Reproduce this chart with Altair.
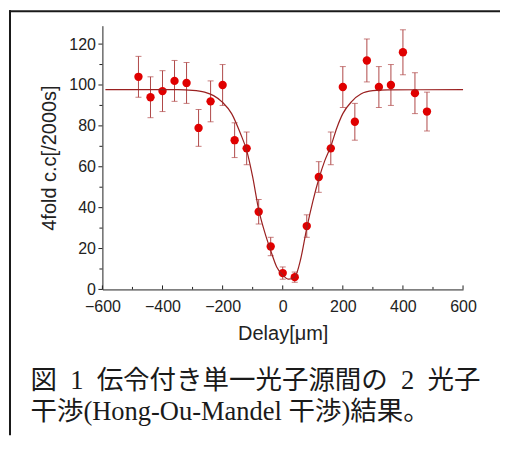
import altair as alt
import pandas as pd

delay = [-480, -440, -400, -360, -320, -280, -240, -200, -160, -120, -80, -40,
         0, 40, 80, 120, 160, 200, 240, 280, 320, 360, 400, 440, 480]
counts = [104, 94, 97, 102, 101, 79, 92, 100, 73, 69, 38, 21,
          8, 6, 31, 55, 69, 99, 82, 112, 99, 100, 116, 96, 87]
errors = [10, 10, 10, 10, 10, 9, 10, 10, 8.5, 8, 6, 4.5,
          3, 2.5, 5.5, 7.5, 8, 10, 9, 10.5, 10, 10, 11, 10, 9.5]

# fitted curve
fit_x = [-590, -350, -300, -260, -230, -200, -170, -140, -120, -100, -80, -60,
         -40, -20, 0, 20, 40, 60, 80, 100, 120, 140, 160, 180, 200, 230, 260,
         300, 350, 600]
fit_y = [97.7, 97.7, 97.4, 96.5, 94.8, 91.5, 86, 76, 68, 55, 39, 28,
         19, 11, 7, 5, 6, 15, 30, 43, 54, 63, 70, 79, 86, 92, 95.6,
         97.2, 97.6, 97.7]

x_major = [-600, -400, -200, 0, 200, 400, 600]
x_minor = [-500, -300, -100, 100, 300, 500]
y_major = [0, 20, 40, 60, 80, 100, 120]
y_minor = [10, 30, 50, 70, 90, 110]

caption_1 = "図\u20021\u2002伝令付き単一光子源間の\u20022\u2002光子"
caption_2 = "干渉(Hong-Ou-Mandel 干渉)結果。"

W, H = 361, 264
PT = "#e00000"
ERR = "#b04848"
LN = "#9a2020"
AX = "#222222"
FR = "#1a1a1a"
CAP_FONT = "'Liberation Serif', 'Noto Sans CJK JP'"

df = pd.DataFrame({"delay": delay, "count": counts,
                   "lo": [c - e for c, e in zip(counts, errors)],
                   "hi": [c + e for c, e in zip(counts, errors)]})
fit_df = pd.DataFrame({"x": fit_x, "y": fit_y})

xscale = alt.Scale(domain=[-600, 600], nice=False, zero=False)
yscale = alt.Scale(domain=[0, 129], nice=False)

xaxis = alt.Axis(values=x_major, ticks=False, tickSize=0, labelPadding=9,
                 titlePadding=9, grid=False, labelFlush=False)
yaxis = alt.Axis(values=y_major, ticks=False, tickSize=0, labelPadding=7,
                 titlePadding=9, grid=False, labelFlush=False)

base = alt.Chart(df)

bars = base.mark_rule(color=ERR, strokeWidth=1).encode(
    x=alt.X("delay:Q", scale=xscale, axis=xaxis, title="Delay[μm]"),
    y=alt.Y("lo:Q", scale=yscale, axis=yaxis, title="4fold c.c[/2000s]"),
    y2="hi:Q",
)
cap_lo = base.mark_tick(color=ERR, thickness=1, size=6, orient="horizontal").encode(
    x="delay:Q", y="lo:Q")
cap_hi = base.mark_tick(color=ERR, thickness=1, size=6, orient="horizontal").encode(
    x="delay:Q", y="hi:Q")
pts = base.mark_circle(size=70, color=PT, opacity=1).encode(
    x="delay:Q", y="count:Q")

curve = alt.Chart(fit_df).mark_line(color=LN, strokeWidth=1.2,
                                    interpolate="monotone").encode(
    x="x:Q", y="y:Q")

xt_major = alt.Chart(pd.DataFrame({"t": x_major})).mark_rule(color=AX).encode(
    x="t:Q", y=alt.value(H), y2=alt.value(H - 4))
xt_minor = alt.Chart(pd.DataFrame({"t": x_minor})).mark_rule(color=AX).encode(
    x="t:Q", y=alt.value(H), y2=alt.value(H - 2.5))
yt_major = alt.Chart(pd.DataFrame({"t": y_major})).mark_rule(color=AX).encode(
    y="t:Q", x=alt.value(0), x2=alt.value(-4))
yt_minor = alt.Chart(pd.DataFrame({"t": y_minor})).mark_rule(color=AX).encode(
    y="t:Q", x=alt.value(0), x2=alt.value(-3))

one = pd.DataFrame({"k": [0]})
frame_v = alt.Chart(one).mark_rect(color=FR, strokeWidth=0).encode(
    x=alt.value(-93.5), x2=alt.value(-91.5), y=alt.value(-15.5), y2=alt.value(410))
frame_h = alt.Chart(one).mark_rect(color=FR, strokeWidth=0).encode(
    x=alt.value(-93.5), x2=alt.value(398), y=alt.value(-15.5), y2=alt.value(-13.5))

cap_df = pd.DataFrame({"c1": [caption_1], "c2": [caption_2]})
cap_text_1 = alt.Chart(cap_df).mark_text(
    align="left", baseline="alphabetic",
    font=CAP_FONT, fontSize=26.5, color="#1a1a1a"
).encode(text="c1:N", x=alt.value(-72), y=alt.value(364))
cap_text_2 = alt.Chart(cap_df).mark_text(
    align="left", baseline="alphabetic",
    font=CAP_FONT, fontSize=26.5, color="#1a1a1a"
).encode(text="c2:N", x=alt.value(-72), y=alt.value(395))

chart = alt.layer(
    bars, cap_lo, cap_hi, pts, curve, xt_major, xt_minor, yt_major, yt_minor,
    frame_v, frame_h, cap_text_1, cap_text_2
).properties(
    width=W, height=H,
    padding={"left": 0.5, "top": 1.5, "right": 0, "bottom": 0},
).configure_view(stroke="transparent").configure_axis(
    domainColor=AX, labelColor=AX, titleColor=AX,
    labelFont="Liberation Sans", titleFont="Liberation Sans",
    labelFontSize=16, titleFontSize=20, titleFontWeight="normal",
)

chart.save("out.html", embed_options={"renderer": "svg", "actions": False})
